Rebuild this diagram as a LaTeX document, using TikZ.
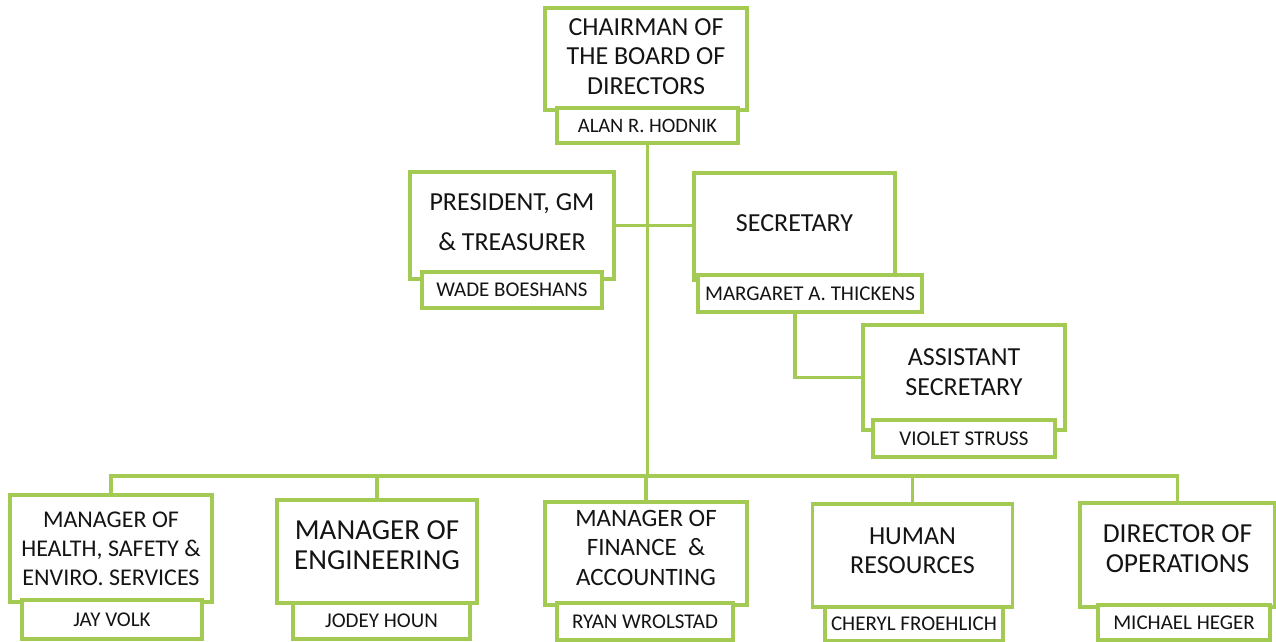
\documentclass[tikz,border=0pt]{standalone}
\usepackage{fontspec}
\setmainfont{Carlito}
\usetikzlibrary{backgrounds}
\definecolor{lgreen}{RGB}{163,202,82}
\definecolor{ink}{RGB}{20,20,20}
\newcommand{\uptext}[2]{\raisebox{#1}[\height][\depth]{\begin{tabular}{@{}c@{}}#2\end{tabular}}}
\tikzset{
  x=1pt,y=-1pt,
  title/.style={draw=lgreen,line width=3.5pt,fill=white,align=center,text=ink,inner sep=0pt},
  person/.style={draw=lgreen,line width=3.5pt,fill=white,align=center,text=ink,inner sep=0pt,font=\fontsize{21}{23}\selectfont},
  conn/.style={draw=lgreen,line width=3.5pt}
}
\begin{document}
\begin{tikzpicture}
\useasboundingbox (0,0) rectangle (1276,641);
% boxes
\node[title,minimum width=202pt,minimum height=102pt,font=\fontsize{26}{29.5}\selectfont] (chair) at (646,59) {\uptext{0pt}{CHAIRMAN OF\\THE BOARD OF\\DIRECTORS}};
\node[person,minimum width=181pt,minimum height=35pt,font=\fontsize{20.5}{23}\selectfont] (chairn) at (647.5,125.5) {ALAN R. HODNIK};
\node[title,minimum width=204pt,minimum height=107pt,font=\fontsize{26}{40}\selectfont] (pres) at (512,225.5) {\uptext{3.5pt}{PRESIDENT, GM\\\& TREASURER}};
\node[person,minimum width=180pt,minimum height=36pt] (presn) at (512,290) {WADE BOESHANS};
\node[title,minimum width=201pt,minimum height=107pt,font=\fontsize{26}{30}\selectfont] (sec) at (794.5,226.5) {\uptext{1pt}{SECRETARY}};
\node[person,minimum width=224pt,minimum height=37pt] (secn) at (810,293.5) {MARGARET A. THICKENS};
\node[title,minimum width=202pt,minimum height=105pt,font=\fontsize{26}{29.5}\selectfont] (asst) at (964,377.5) {\uptext{3pt}{ASSISTANT\\SECRETARY}};
\node[person,minimum width=182pt,minimum height=37pt] (asstn) at (964,438.5) {VIOLET STRUSS};
\node[title,minimum width=202pt,minimum height=107pt,font=\fontsize{24}{29}\selectfont] (b1) at (111,548.5) {\uptext{-2pt}{MANAGER OF\\HEALTH, SAFETY \&\\ENVIRO. SERVICES}};
\node[person,minimum width=180pt,minimum height=39pt] (b1n) at (112,619.5) {JAY VOLK};
\node[title,minimum width=200pt,minimum height=103pt,font=\fontsize{29}{30}\selectfont] (b2) at (377,551.5) {\uptext{3pt}{MANAGER OF\\ENGINEERING}};
\node[person,minimum width=177pt,minimum height=36pt] (b2n) at (381.5,621) {JODEY HOUN};
\node[title,minimum width=202pt,minimum height=103pt,font=\fontsize{25}{29.5}\selectfont] (b3) at (646,553.5) {\uptext{3.5pt}{MANAGER OF\\FINANCE\ \ \&\\ACCOUNTING}};
\node[person,minimum width=176pt,minimum height=37pt] (b3n) at (645,621.5) {RYAN WROLSTAD};
\node[title,minimum width=200pt,minimum height=103pt,font=\fontsize{26}{29}\selectfont] (b4) at (912.5,555.5) {\uptext{2.5pt}{HUMAN\\RESOURCES}};
\node[person,minimum width=178pt,minimum height=34pt] (b4n) at (914,624) {CHERYL FROEHLICH};
\node[title,minimum width=195pt,minimum height=104pt,font=\fontsize{27.5}{30}\selectfont] (b5) at (1177.5,555) {\uptext{4pt}{DIRECTOR OF\\OPERATIONS}};
\node[person,minimum width=172pt,minimum height=35pt] (b5n) at (1184,622.5) {MICHAEL HEGER};
% connectors behind
\coordinate (bus) at (646,476);
\coordinate (sdrop) at (795,312);
\begin{scope}[on background layer]
\draw[conn] (chairn.south) -- (chairn.south |- bus);
\draw[conn] (pres.east) -- (pres.east -| sec.west);
\draw[conn] (sdrop) |- (asst.west);
\draw[conn] (b1.north) |- (bus) -| (b5.north);
\draw[conn] (b2.north) -- (b2.north |- bus);
\draw[conn] (b3.north) -- (b3.north |- bus);
\draw[conn] (b4.north) -- (b4.north |- bus);
\end{scope}
\end{tikzpicture}
\end{document}
